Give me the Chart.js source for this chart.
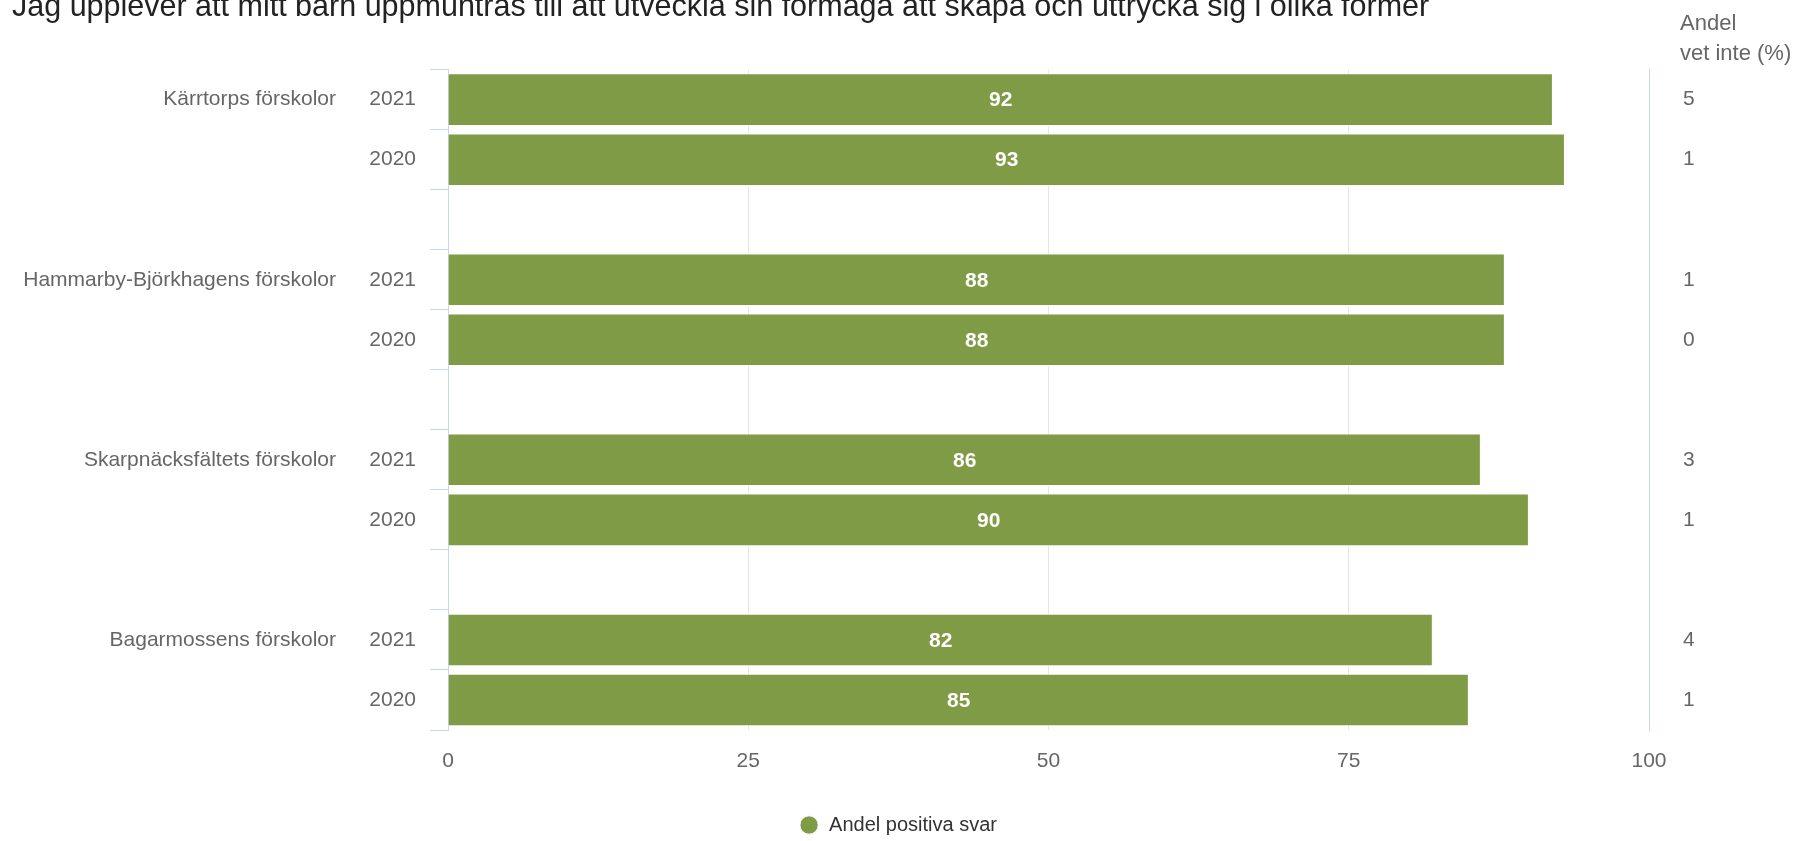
<!DOCTYPE html>
<html>
<head>
<meta charset="utf-8">
<script src="https://cdn.jsdelivr.net/npm/chart.js@4"></script>
<style>
  html, body { margin: 0; padding: 0; background: #fff; overflow: hidden; }
  #chart { position: absolute; left: 0; top: -11px; }
</style>
</head>
<body>
<canvas id="chart" width="1796" height="856"></canvas>
<script>
// Survey data: share of positive answers and "vet inte" per unit and year
const units = ['Kärrtorps förskolor', 'Hammarby-Björkhagens förskolor', 'Skarpnäcksfältets förskolor', 'Bagarmossens förskolor'];
const years = ['2021', '2020'];
const positive2021 = [92, 88, 86, 82];
const positive2020 = [93, 88, 90, 85];
const vetInte2021 = [5, 1, 3, 4];
const vetInte2020 = [1, 0, 1, 1];
const xTicks = [0, 25, 50, 75, 100];

const FONT = "'Liberation Sans', Arial, Helvetica, sans-serif";
const GREEN = '#7f9b45';
const AXIS = '#ccd6eb';
const LABEL = '#666666';

// Build rows: two years per unit with an empty row in between
const yearLabels = [];
const unitLabels = [];
const vetLabels = [];
const values = [];
units.forEach((u, i) => {
  if (i > 0) {
    yearLabels.push(''); unitLabels.push(''); vetLabels.push(''); values.push(null);
  }
  yearLabels.push(years[0], years[1]);
  unitLabels.push(u, '');
  vetLabels.push(String(vetInte2021[i]), String(vetInte2020[i]));
  values.push(positive2021[i], positive2020[i]);
});

// White value labels centered in each bar
const barLabels = {
  id: 'barLabels',
  afterDatasetsDraw(chart) {
    const ctx = chart.ctx;
    const meta = chart.getDatasetMeta(0);
    ctx.save();
    ctx.font = 'bold 21px ' + FONT;
    ctx.fillStyle = '#ffffff';
    ctx.textAlign = 'center';
    ctx.textBaseline = 'middle';
    meta.data.forEach((bar, i) => {
      const v = chart.data.datasets[0].data[i];
      if (v == null) return;
      const p = bar.getProps(['x', 'y', 'base'], true);
      ctx.fillText(String(v), (p.x + p.base) / 2, p.y + 1);
    });
    ctx.restore();
  }
};

// Header above the right-hand column
const rightHeader = {
  id: 'rightHeader',
  afterDraw(chart) {
    const ctx = chart.ctx;
    const x = chart.chartArea.right + 31;
    ctx.save();
    ctx.font = '22px ' + FONT;
    ctx.fillStyle = LABEL;
    ctx.textAlign = 'left';
    ctx.textBaseline = 'alphabetic';
    ctx.fillText('Andel', x, 41);
    ctx.fillText('vet inte (%)', x, 71);
    ctx.restore();
  }
};

new Chart(document.getElementById('chart'), {
  type: 'bar',
  data: {
    labels: yearLabels,
    datasets: [{
      label: 'Andel positiva svar',
      data: values,
      backgroundColor: GREEN,
      borderColor: '#ffffff',
      borderWidth: 1,
      barPercentage: 0.875,
      categoryPercentage: 1,
      yAxisID: 'y'
    }]
  },
  plugins: [barLabels, rightHeader],
  options: {
    indexAxis: 'y',
    responsive: false,
    animation: false,
    layout: { padding: { left: 12, right: 12, top: 0, bottom: 0 } },
    scales: {
      x: {
        min: 0,
        max: 100,
        afterBuildTicks: axis => { axis.ticks = xTicks.map(v => ({ value: v })); },
        grid: { color: '#e6e6e6', drawTicks: false },
        border: { display: false },
        ticks: { color: LABEL, font: { family: FONT, size: 21 }, padding: 19 },
        afterFit: axis => { axis.height = 75; }
      },
      y: {
        type: 'category',
        position: 'left',
        weight: 0,
        offset: true,
        grid: { offset: true, drawOnChartArea: false, color: AXIS, tickLength: 18 },
        border: { display: true, color: AXIS },
        ticks: { color: LABEL, font: { family: FONT, size: 21 }, padding: 14, autoSkip: false },
        afterFit: axis => { axis.width = 78; }
      },
      yUnit: {
        type: 'category',
        labels: unitLabels,
        position: 'left',
        weight: 1,
        offset: true,
        grid: { display: false, drawTicks: false, tickLength: 0 },
        border: { display: false },
        ticks: { color: LABEL, font: { family: FONT, size: 21 }, padding: 34, autoSkip: false },
        afterFit: axis => { axis.width = 358; }
      },
      yRight: {
        type: 'category',
        labels: vetLabels,
        position: 'right',
        offset: true,
        grid: { display: false, drawTicks: false, tickLength: 0 },
        border: { display: true, color: AXIS },
        ticks: { color: LABEL, font: { family: FONT, size: 21 }, padding: 34, autoSkip: false },
        afterFit: axis => { axis.width = 135; }
      }
    },
    plugins: {
      title: {
        display: true,
        text: 'Jag upplever att mitt barn uppmuntras till att utveckla sin förmåga att skapa och uttrycka sig i olika former',
        align: 'start',
        color: '#222222',
        font: { family: FONT, size: 30.5, weight: 'normal' },
        padding: { top: 0, bottom: 44 }
      },
      legend: {
        position: 'bottom',
        labels: {
          usePointStyle: true,
          pointStyle: 'circle',
          boxHeight: 13,
          color: '#333333',
          font: { family: FONT, size: 20 },
          padding: 10
        }
      },
      tooltip: { enabled: false }
    }
  }
});
</script>
</body>
</html>
